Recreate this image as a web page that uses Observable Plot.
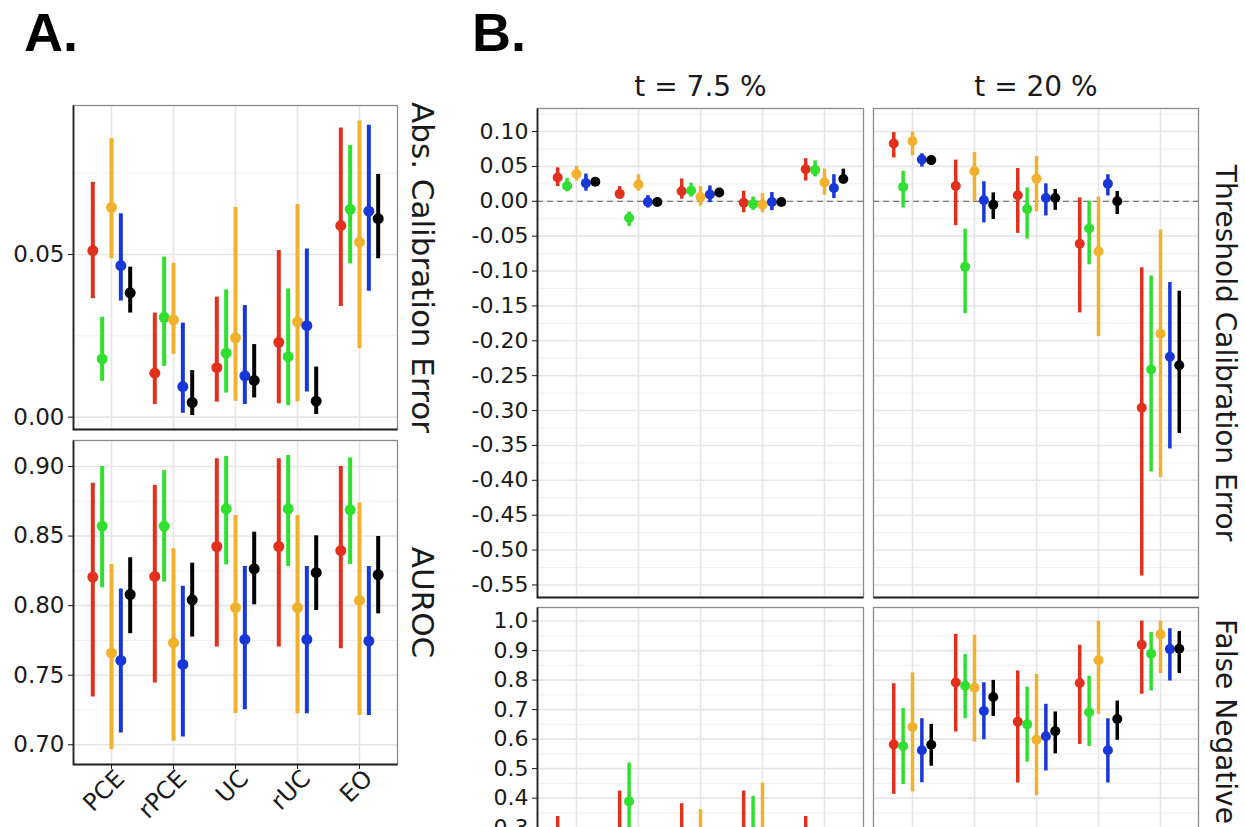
<!DOCTYPE html>
<html><head><meta charset="utf-8">
<script src="https://cdn.jsdelivr.net/npm/d3@7"></script>
<script src="https://cdn.jsdelivr.net/npm/@observablehq/plot@0.6"></script>
<style>
html,body{margin:0;padding:0;background:#fff;overflow:hidden;}
#root{position:relative;width:1245px;height:827px;overflow:hidden;background:#fff;font-family:"DejaVu Sans",sans-serif;}
#root svg{position:absolute;background:transparent;}
.tag{position:absolute;font-family:"Liberation Sans",Arial,sans-serif;font-weight:bold;font-size:54px;line-height:1;color:#000;}
</style></head><body><div id="root"></div>
<script>
// ---------- data ----------
const categories = ["PCE", "rPCE", "UC", "rUC", "EO"];
const series = ["S1", "S2", "S3", "S4", "S5"];
const seriesColors = ["#e3301c", "#2fe02f", "#f2b12c", "#1737d9", "#000000"];
const panelTags = ["A.", "B."];
const stripA = ["Abs. Calibration Error", "AUROC"];
const stripB = ["Threshold Calibration Error", "False Negative Rate"];
const thresholds = ["t = 7.5 %", "t = 20 %"];

// rows = categories, columns = series
const absCalEst = [[0.0512,0.0179,0.0645,0.0466,0.0382],[0.0135,0.0307,0.0299,0.0094,0.0045],[0.0152,0.0197,0.0244,0.0127,0.0113],[0.0230,0.0186,0.0293,0.0281,0.0049],[0.0589,0.0639,0.0538,0.0633,0.0610]];
const absCalLo  = [[0.0364,0.0110,0.0487,0.0357,0.0320],[0.0039,0.0156,0.0193,0.0012,0.0005],[0.0046,0.0074,0.0049,0.0039,0.0059],[0.0041,0.0035,0.0047,0.0077,0.0008],[0.0340,0.0471,0.0210,0.0387,0.0487]];
const absCalHi  = [[0.0722,0.0307,0.0856,0.0625,0.0461],[0.0320,0.0492,0.0473,0.0289,0.0143],[0.0369,0.0391,0.0645,0.0343,0.0223],[0.0512,0.0394,0.0654,0.0517,0.0154],[0.0889,0.0835,0.0910,0.0897,0.0746]];

const aurocEst = [[0.8205,0.8571,0.7659,0.7606,0.8080],[0.8210,0.8571,0.7733,0.7577,0.8042],[0.8425,0.8696,0.7985,0.7757,0.8265],[0.8425,0.8696,0.7985,0.7757,0.8238],[0.8396,0.8689,0.8037,0.7745,0.8222]];
const aurocLo  = [[0.7343,0.8128,0.6964,0.7084,0.7798],[0.7443,0.8169,0.7026,0.7055,0.7774],[0.7702,0.8293,0.7223,0.7252,0.8006],[0.7702,0.8281,0.7223,0.7223,0.7965],[0.7690,0.8296,0.7211,0.7211,0.7941]];
const aurocHi  = [[0.8880,0.9000,0.8296,0.8119,0.8344],[0.8863,0.8971,0.8408,0.8140,0.8305],[0.9055,0.9072,0.8648,0.8281,0.8528],[0.9055,0.9079,0.8648,0.8281,0.8502],[0.9000,0.9062,0.8737,0.8281,0.8497]];

const tce75Est = [[0.034,0.022,0.039,0.026,0.028],[0.0106,-0.024,0.024,-0.001,-0.001],[0.0145,0.0155,0.006,0.0097,0.0126],[-0.002,-0.004,-0.005,-0.001,-0.001],[0.046,0.045,0.027,0.019,0.032]];
const tce75Lo  = [[0.021,0.0136,0.029,0.0145,0.024],[0.003,-0.036,0.0145,-0.0097,-0.005],[0.003,0.006,-0.007,-0.002,0.007],[-0.0165,-0.013,-0.0165,-0.0135,-0.005],[0.029,0.035,0.0087,0.004,0.026]];
const tce75Hi  = [[0.048,0.033,0.050,0.039,0.032],[0.021,-0.0155,0.038,0.008,0.003],[0.032,0.026,0.021,0.022,0.017],[0.0145,0.006,0.011,0.0126,0.003],[0.061,0.058,0.046,0.038,0.046]];

const tce20Est = [[0.0827,0.0206,0.086,0.060,0.059],[0.022,-0.094,0.043,0.0014,-0.005],[0.0086,-0.011,0.0325,0.0048,0.0048],[-0.061,-0.039,-0.072,0.025,0.0],[-0.296,-0.241,-0.190,-0.223,-0.235]];
const tce20Lo  = [[0.062,-0.0096,0.065,0.049,0.053],[-0.035,-0.161,0.0,-0.031,-0.026],[-0.046,-0.054,-0.015,-0.021,-0.013],[-0.160,-0.091,-0.194,0.0076,-0.019],[-0.537,-0.388,-0.396,-0.355,-0.333]];
const tce20Hi  = [[0.0985,0.043,0.0994,0.068,0.064],[0.059,-0.040,0.070,0.028,0.012],[0.047,0.019,0.064,0.025,0.017],[0.0048,0.0,0.006,0.038,0.014],[-0.0954,-0.107,-0.041,-0.1165,-0.129]];

const fn75Est = [[0.17,0.12,0.14,0.10,0.11],[0.22,0.389,0.18,0.14,0.20],[0.20,0.13,0.19,0.12,0.14],[0.23,0.22,0.24,0.12,0.15],[0.17,0.11,0.13,0.09,0.12]];
const fn75Lo  = [[0.07,0.05,0.05,0.04,0.06],[0.09,0.26,0.07,0.06,0.12],[0.08,0.05,0.07,0.05,0.09],[0.10,0.09,0.09,0.05,0.09],[0.07,0.04,0.05,0.03,0.07]];
const fn75Hi  = [[0.338,0.24,0.28,0.20,0.17],[0.424,0.519,0.29,0.26,0.30],[0.381,0.25,0.361,0.23,0.20],[0.424,0.406,0.451,0.24,0.22],[0.338,0.22,0.26,0.18,0.18]];

const fn20Est = [[0.582,0.576,0.641,0.562,0.581],[0.792,0.781,0.774,0.695,0.743],[0.659,0.650,0.598,0.610,0.627],[0.790,0.691,0.867,0.562,0.668],[0.920,0.889,0.955,0.905,0.906]];
const fn20Lo  = [[0.413,0.446,0.421,0.452,0.508],[0.624,0.669,0.590,0.598,0.677],[0.451,0.522,0.409,0.492,0.550],[0.582,0.575,0.684,0.451,0.596],[0.752,0.763,0.822,0.797,0.822]];
const fn20Hi  = [[0.788,0.703,0.824,0.669,0.650],[0.955,0.887,0.952,0.791,0.799],[0.831,0.776,0.819,0.718,0.692],[0.918,0.813,1.0,0.669,0.729],[1.0,0.961,1.0,0.974,0.965]];

// tick values
const absCalTicks = [0.00, 0.05];
const absCalMinor = [0.025, 0.075];
const aurocTicks = [0.70, 0.75, 0.80, 0.85, 0.90];
const aurocMinor = [0.725, 0.775, 0.825, 0.875];
const tceTicks = [0.10,0.05,0.00,-0.05,-0.10,-0.15,-0.20,-0.25,-0.30,-0.35,-0.40,-0.45,-0.50,-0.55];
const tceMinor = [0.125,0.075,0.025,-0.025,-0.075,-0.125,-0.175,-0.225,-0.275,-0.325,-0.375,-0.425,-0.475,-0.525];
const fnTicks = [1.0,0.9,0.8,0.7,0.6,0.5,0.4,0.3,0.2,0.1];
const fnMinor = [0.95,0.85,0.75,0.65,0.55,0.45,0.35,0.25,0.15,0.05];

// ---------- drawing ----------
function tidy(est, lo, hi) {
  const out = [];
  categories.forEach((c, i) => series.forEach((s, j) =>
    out.push({cat: c, series: s, est: est[i][j], lo: lo[i][j], hi: hi[i][j]})));
  return out;
}

const root = document.getElementById("root");

function panel(o) {
  const width = o.ml + o.w + o.mr, height = o.mt + o.h + o.mb;
  const bw = o.w / (categories.length + 0.2);
  const dodge = 0.15 * bw;
  const rows = tidy(o.est, o.lo, o.hi);
  const marks = [
    Plot.gridY(o.minor, {stroke: "#f0f0f0", strokeOpacity: 1, strokeWidth: 1}),
    Plot.gridY(o.major, {stroke: "#e6e6e6", strokeOpacity: 1, strokeWidth: 1.6}),
    Plot.gridX(categories, {stroke: "#e6e6e6", strokeOpacity: 1, strokeWidth: 1.6})
  ];
  if (o.zero) marks.push(Plot.ruleY([0], {stroke: "#7a7a7a", strokeWidth: 1.3, strokeDasharray: "6,4"}));
  series.forEach((s, j) => {
    const d = rows.filter(r => r.series === s);
    marks.push(Plot.ruleX(d, {x: "cat", y1: "lo", y2: "hi", stroke: "series", strokeWidth: o.sw, dx: (j - 2) * dodge}));
    marks.push(Plot.dot(d, {x: "cat", y: "est", fill: "series", r: o.r, dx: (j - 2) * dodge}));
  });
  marks.push(Plot.frame({stroke: "#8c8c8c", strokeWidth: 1.3}));
  const P = o.w + o.h;
  marks.push(Plot.frame({stroke: "#222", strokeWidth: 1.8,
    strokeDasharray: o.yLabels ? `0,${P},${P}` : `0,${P},${o.w},${o.h}`}));
  if (o.yLabels) marks.push(Plot.axisY(o.major, {tickFormat: o.fmt, tickSize: 5, tickPadding: 4, fontSize: o.fs, label: null}));
  if (o.xLabels) {
    marks.push(Plot.axisX({tickSize: 5, tickFormat: null, label: null}));
    marks.push(Plot.axisX({tickRotate: -45, tickSize: 0, tickPadding: 10, dx: 9, fontSize: o.xfs, label: null}));
  }
  if (o.stripTop) marks.push(Plot.text([o.stripTop], {text: d => d, frameAnchor: "top", textAnchor: "middle", lineAnchor: "bottom", dy: -13, fontSize: o.tfs}));
  if (o.stripRight) marks.push(Plot.text([o.stripRight], {text: d => d, frameAnchor: "right", textAnchor: "middle", lineAnchor: "middle", rotate: 90, dx: o.sdx, fontSize: o.sfs}));
  const svg = Plot.plot({
    width, height,
    marginLeft: o.ml, marginRight: o.mr, marginTop: o.mt, marginBottom: o.mb,
    style: {fontFamily: "DejaVu Sans", color: "#1a1a1a", background: "transparent", overflow: "visible"},
    x: Object.assign({type: "band", domain: categories, paddingInner: 0, paddingOuter: 0.1, label: null}, o.xLabels ? {} : {axis: null}),
    y: Object.assign({domain: o.yDomain, label: null}, o.yLabels ? {} : {axis: null}),
    color: {domain: series, range: seriesColors},
    marks
  });
  svg.style.left = (o.left - o.ml) + "px";
  svg.style.top = (o.top - o.mt) + "px";
  root.appendChild(svg);
}

// Panel A
panel({left: 73, top: 105, w: 324, h: 324, ml: 73, mr: 45, mt: 10, mb: 8,
  est: absCalEst, lo: absCalLo, hi: absCalHi, yDomain: [-0.0038, 0.0958],
  major: absCalTicks, minor: absCalMinor, fmt: d => d.toFixed(2), fs: 23,
  yLabels: true, xLabels: false, stripRight: stripA[0], sdx: 24, sfs: 31, r: 5.5, sw: 4});
panel({left: 73, top: 440, w: 324, h: 324, ml: 73, mr: 45, mt: 3, mb: 63,
  est: aurocEst, lo: aurocLo, hi: aurocHi, yDomain: [0.6858, 0.9187],
  major: aurocTicks, minor: aurocMinor, fmt: d => d.toFixed(2), fs: 23,
  yLabels: true, xLabels: true, xfs: 24, stripRight: stripA[1], sdx: 24, sfs: 31, r: 5.5, sw: 4});

// Panel B
panel({left: 537, top: 108, w: 326, h: 489, ml: 77, mr: 5, mt: 50, mb: 4,
  est: tce75Est, lo: tce75Lo, hi: tce75Hi, yDomain: [-0.568, 0.133],
  major: tceTicks, minor: tceMinor, fmt: d => d.toFixed(2), fs: 22, zero: true,
  yLabels: true, xLabels: false, stripTop: thresholds[0], tfs: 28, r: 5, sw: 3.5});
panel({left: 873, top: 108, w: 325, h: 489, ml: 5, mr: 47, mt: 50, mb: 4,
  est: tce20Est, lo: tce20Lo, hi: tce20Hi, yDomain: [-0.568, 0.133],
  major: tceTicks, minor: tceMinor, zero: true,
  yLabels: false, xLabels: false, stripTop: thresholds[1], tfs: 28, stripRight: stripB[0], sdx: 26, sfs: 28, r: 5, sw: 3.5});
panel({left: 537, top: 607, w: 326, h: 301, ml: 77, mr: 5, mt: 5, mb: 40,
  est: fn75Est, lo: fn75Lo, hi: fn75Hi, yDomain: [0.026, 1.046],
  major: fnTicks, minor: fnMinor, fmt: d => d.toFixed(1), fs: 22,
  yLabels: true, xLabels: false, r: 5, sw: 3.5});
panel({left: 873, top: 607, w: 325, h: 301, ml: 5, mr: 47, mt: 5, mb: 40,
  est: fn20Est, lo: fn20Lo, hi: fn20Hi, yDomain: [0.026, 1.046],
  major: fnTicks, minor: fnMinor,
  yLabels: false, xLabels: false, stripRight: stripB[1], sdx: 26, sfs: 28, r: 5, sw: 3.5});

// panel tags
[[panelTags[0], 24, 5], [panelTags[1], 472, 5]].forEach(([t, x, y]) => {
  const d = document.createElement("div");
  d.className = "tag"; d.textContent = t;
  d.style.left = x + "px"; d.style.top = y + "px";
  root.appendChild(d);
});
</script></body></html>
